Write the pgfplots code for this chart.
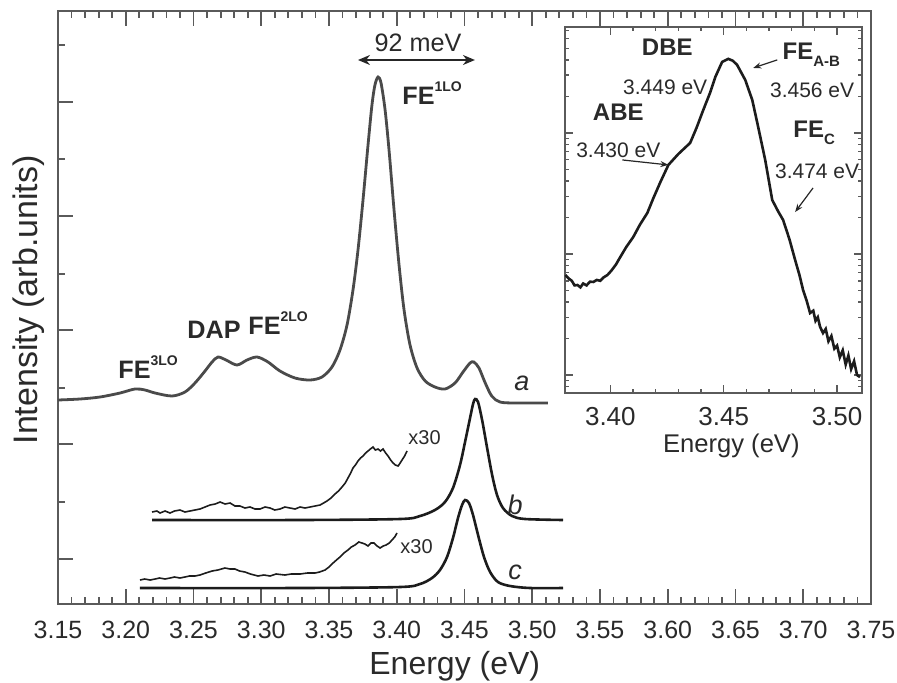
\documentclass[border=0pt]{standalone}
\usepackage{fontspec}
\setmainfont{Liberation Sans}
\usepackage{pgfplots}
\pgfplotsset{compat=1.18}
\usetikzlibrary{arrows.meta}

\definecolor{frame}{HTML}{5A5A5A}
\definecolor{curvea}{HTML}{4A4A4A}
\definecolor{curvebc}{HTML}{1C1C1C}
\definecolor{txt}{HTML}{2A2A2A}

\newcommand{\supl}[2]{\textbf{#1}\raisebox{0.95ex}{\fontsize{7}{7}\selectfont\textbf{#2}}}
\newcommand{\subl}[2]{\textbf{#1}\raisebox{-0.55ex}{\fontsize{7.5}{7.5}\selectfont\textbf{#2}}}

\begin{document}
\begin{tikzpicture}
% main spectra
\begin{axis}[
    at={(0,0)}, anchor=south west,
    scale only axis, width=406.5pt, height=296.5pt,
    xmin=3.15, xmax=3.75, ymin=0, ymax=593,
    xtick={3.15,3.20,3.25,3.30,3.35,3.40,3.45,3.50,3.55,3.60,3.65,3.70,3.75},
    minor x tick num=4,
    ytick={45,160,274,388,502}, minor ytick={102,216,330,445,559},
    yticklabels={},
    xtick pos=both, ytick pos=left,
    tick align=inside,
    major tick length=7.5pt, minor tick length=3.6pt,
    every tick/.style={frame, line width=0.9pt},
    axis line style={frame, line width=1.2pt},
    /pgf/number format/assume math mode=true,
    xticklabel={\pgfmathprintnumber[fixed,fixed zerofill,precision=2]{\tick}},
    xticklabel style={font=\fontsize{12.5}{14}\selectfont, text=txt, anchor=north, inner sep=0pt, yshift=-8.3pt},
    xlabel={Energy (eV)},
    xlabel style={font=\fontsize{16}{18}\selectfont, text=txt, at={(axis description cs:0.488,0)}, anchor=north, inner sep=0pt, yshift=-23.5pt},
    ylabel={Intensity (arb.units)},
    ylabel style={font=\fontsize{17}{19}\selectfont, text=txt, at={(axis description cs:-0.016,0.513)}, anchor=south, inner sep=0pt},
    clip=false,
]
% a
\addplot[curvea, line width=1.4pt, smooth] coordinates {
(3.1500,204) (3.1662,205) (3.1810,207) (3.1958,211) (3.2068,215) (3.2142,214)
(3.2216,211) (3.2341,208) (3.2437,212) (3.2511,221) (3.2585,233) (3.2637,242)
(3.2681,247) (3.2740,244) (3.2821,239) (3.2895,244) (3.2969,247) (3.3050,242)
(3.3138,233) (3.3249,226) (3.3360,224) (3.3448,227) (3.3522,237) (3.3581,254)
(3.3633,279) (3.3677,314) (3.3714,354) (3.3751,404) (3.3788,459) (3.3817,499)
(3.3839,519) (3.3862,527) (3.3884,521) (3.3914,494) (3.3943,454) (3.3980,394)
(3.4017,339) (3.4054,294) (3.4098,259) (3.4150,236) (3.4210,223) (3.4282,217)
(3.4356,215) (3.4430,221) (3.4489,232) (3.4541,241) (3.4569,242) (3.4607,236)
(3.4650,222) (3.4701,208) (3.4762,202) (3.4873,201) (3.5116,201)
};
% b
\addplot[curvebc, line width=1.3pt, smooth] coordinates {
(3.2194,84) (3.3286,84) (3.4024,85) (3.4172,88) (3.4282,94) (3.4356,102)
(3.4415,116) (3.4467,139) (3.4504,162) (3.4541,186) (3.4563,200) (3.4578,205)
(3.4600,202) (3.4630,184) (3.4667,156) (3.4704,129) (3.4740,109) (3.4784,96)
(3.4851,88) (3.4947,85) (3.5227,84)
};
% b x30
\addplot[curvebc, line width=0.8pt] coordinates {
(3.2194,92) (3.2230,93) (3.2253,91) (3.2290,93) (3.2327,91) (3.2360,93)
(3.2400,94) (3.2437,92) (3.2474,93) (3.2510,94) (3.2548,95) (3.2585,97)
(3.2622,99) (3.2660,100) (3.2696,102) (3.2733,100) (3.2770,101) (3.2806,98)
(3.2843,98) (3.2880,96) (3.2917,97) (3.2954,95) (3.2991,95) (3.3028,97)
(3.3065,96) (3.3100,94) (3.3138,95) (3.3175,97) (3.3212,96) (3.3250,95)
(3.3286,97) (3.3323,96) (3.3360,97) (3.3397,98) (3.3434,99) (3.3460,101)
(3.3485,103) (3.3515,106) (3.3544,110) (3.3570,113) (3.3596,117) (3.3620,121)
(3.3640,126) (3.3660,131) (3.3677,136) (3.3695,139) (3.3714,143) (3.3733,146)
(3.3751,148) (3.3770,151) (3.3788,153) (3.3805,155) (3.3825,157) (3.3842,154)
(3.3862,155) (3.3880,153) (3.3899,155) (3.3918,151) (3.3936,148) (3.3955,144)
(3.3973,141) (3.3990,139) (3.4010,138) (3.4025,141) (3.4039,144) (3.4058,148)
(3.4076,153)
};
% c
\addplot[curvebc, line width=1.3pt, smooth] coordinates {
(3.2105,16) (3.3286,16) (3.4024,17) (3.4172,20) (3.4260,26) (3.4319,34)
(3.4371,47) (3.4415,66) (3.4452,86) (3.4482,99) (3.4504,104) (3.4533,101)
(3.4563,89) (3.4600,69) (3.4644,47) (3.4689,32) (3.4747,22) (3.4836,18)
(3.4983,16) (3.5227,16)
};
% c x30
\addplot[curvebc, line width=0.8pt] coordinates {
(3.2105,24) (3.2140,25) (3.2180,24) (3.2216,25) (3.2250,26) (3.2290,25)
(3.2327,26) (3.2360,27) (3.2400,26) (3.2437,27) (3.2470,28) (3.2510,28)
(3.2548,29) (3.2590,31) (3.2637,33) (3.2680,34) (3.2732,36) (3.2770,35)
(3.2806,35) (3.2840,33) (3.2880,32) (3.2920,30) (3.2976,28) (3.3020,29)
(3.3065,28) (3.3110,30) (3.3175,29) (3.3220,30) (3.3286,30) (3.3340,31)
(3.3397,31) (3.3430,32) (3.3471,34) (3.3500,37) (3.3530,41) (3.3555,44)
(3.3581,47) (3.3610,51) (3.3640,54) (3.3665,57) (3.3692,59) (3.3720,62)
(3.3744,61) (3.3765,60) (3.3788,58) (3.3810,61) (3.3833,61) (3.3855,58)
(3.3877,56) (3.3900,58) (3.3921,59) (3.3945,61) (3.3965,64) (3.3985,67)
(3.4002,71)
};
% annotations
\draw[black!85, line width=0.9pt, {Stealth[length=6pt,width=5pt]}-{Stealth[length=6pt,width=5pt]}]
    (axis cs:3.3714,544) -- (axis cs:3.4577,544);
\node[text=txt, font=\fontsize{12.6}{14}\selectfont] at (axis cs:3.4157,561) {92 meV};
\node[text=txt, font=\fontsize{12.6}{14}\selectfont, anchor=west, inner sep=0pt] at (axis cs:3.4039,511) {\supl{FE}{1LO}};
\node[text=txt, font=\fontsize{12.6}{14}\selectfont, anchor=west, inner sep=0pt] at (axis cs:3.1943,237) {\supl{FE}{3LO}};
\node[text=txt, font=\fontsize{12.6}{14}\selectfont\bfseries, anchor=west, inner sep=0pt] at (axis cs:3.2452,274) {DAP};
\node[text=txt, font=\fontsize{12.6}{14}\selectfont, anchor=west, inner sep=0pt] at (axis cs:3.2902,281) {\supl{FE}{2LO}};
\node[text=txt, font=\fontsize{13.5}{15}\selectfont\itshape] at (axis cs:3.4924,221) {a};
\node[text=txt, font=\fontsize{13.5}{15}\selectfont\itshape] at (axis cs:3.4873,99) {b};
\node[text=txt, font=\fontsize{13.5}{15}\selectfont\itshape] at (axis cs:3.4873,32) {c};
\node[text=txt, font=\fontsize{10}{12}\selectfont, anchor=west, inner sep=0pt] at (axis cs:3.4083,166) {x30};
\node[text=txt, font=\fontsize{10}{12}\selectfont, anchor=west, inner sep=0pt] at (axis cs:3.4024,57) {x30};
\end{axis}

% inset, log intensity
\begin{axis}[
    at={(253.5pt,105.5pt)}, anchor=south west,
    scale only axis, width=148.5pt, height=183pt,
    xmin=3.38, xmax=3.511,
    ymode=log, ymin=0.71, ymax=750,
    xtick={3.40,3.45,3.50}, minor x tick num=4,
    yticklabels={},
    xtick pos=both, ytick pos=both,
    tick align=inside,
    major tick length=4.2pt, minor tick length=2.2pt,
    every tick/.style={frame, line width=0.7pt},
    axis line style={frame, line width=1.0pt},
    axis background/.style={fill=white},
    /pgf/number format/assume math mode=true,
    xticklabel={\pgfmathprintnumber[fixed,fixed zerofill,precision=2]{\tick}},
    xticklabel style={font=\fontsize{13}{15}\selectfont, text=txt, anchor=north, inner sep=0pt, yshift=-7pt},
    xlabel={Energy (eV)},
    xlabel style={font=\fontsize{12.8}{15}\selectfont, text=txt, anchor=north, inner sep=0pt, at={(axis description cs:0.56,0)}, yshift=-20.5pt},
    clip=false,
]
\addplot[curvebc, line width=1.3pt] coordinates {
(3.3802,6.70) (3.3815,6.3) (3.3830,6.0) (3.3842,5.5) (3.3855,5.54) (3.3868,5.3)
(3.3880,5.7) (3.3895,5.5) (3.3910,5.9) (3.3925,5.87) (3.3940,6.1) (3.3955,6.0)
(3.3970,6.4) (3.3987,6.70) (3.4005,7.3) (3.4025,8.2) (3.4044,9.45) (3.4070,11.4)
(3.4101,13.8) (3.4130,17.4) (3.4163,21.8) (3.4190,29) (3.4220,39) (3.4256,54.4)
(3.4300,67) (3.4352,82.7) (3.4380,110) (3.4410,155) (3.4440,215) (3.4463,290)
(3.4493,386) (3.4520,409) (3.4540,395) (3.4559,365) (3.4595,274) (3.4626,187)
(3.4652,112) (3.4683,59.8) (3.4714,27.9) (3.4740,22.5) (3.4762,19.1) (3.4790,13.2)
(3.4815,8.92) (3.4835,6.6) (3.4850,5.04) (3.4866,4.1) (3.4881,3.25) (3.4895,3.4)
(3.4905,2.8) (3.4915,3.0) (3.4925,2.5) (3.4938,2.22) (3.4950,2.4) (3.4962,1.9)
(3.4975,2.1) (3.4988,1.65) (3.5000,1.75) (3.5012,1.4) (3.5025,1.6) (3.5038,1.22)
(3.5050,1.45) (3.5062,1.12) (3.5075,1.3) (3.5088,1.0) (3.5101,0.96)
};
\node[text=txt, font=\fontsize{12}{14}\selectfont\bfseries] at (axis cs:3.4251,514) {DBE};
\node[text=txt, font=\fontsize{10.5}{12}\selectfont] at (axis cs:3.4242,240) {3.449 eV};
\node[text=txt, font=\fontsize{12}{14}\selectfont\bfseries] at (axis cs:3.4035,149) {ABE};
\node[text=txt, font=\fontsize{10.5}{12}\selectfont] at (axis cs:3.4035,72.4) {3.430 eV};
\draw[black!85, line width=0.6pt, -{Stealth[length=4pt,width=3pt]}] (axis cs:3.4053,59.8) -- (axis cs:3.4256,54.4);
\node[text=txt, font=\fontsize{12}{14}\selectfont, anchor=west, inner sep=0pt] at (axis cs:3.4758,441) {\subl{FE}{A-B}};
\draw[black!85, line width=0.6pt, -{Stealth[length=4pt,width=3pt]}] (axis cs:3.4736,401) -- (axis cs:3.4630,344);
\node[text=txt, font=\fontsize{10.5}{12}\selectfont] at (axis cs:3.4890,227) {3.456 eV};
\node[text=txt, font=\fontsize{12}{14}\selectfont, anchor=west, inner sep=0pt] at (axis cs:3.4806,100) {\subl{FE}{C}};
\node[text=txt, font=\fontsize{10.5}{12}\selectfont] at (axis cs:3.4912,48.5) {3.474 eV};
\draw[black!85, line width=0.6pt, -{Stealth[length=4pt,width=3pt]}] (axis cs:3.4894,35.1) -- (axis cs:3.4815,22.2);
\end{axis}
\pgfresetboundingbox
\path (-29pt,-39pt) rectangle (419.5pt,302pt);
\end{tikzpicture}
\end{document}
